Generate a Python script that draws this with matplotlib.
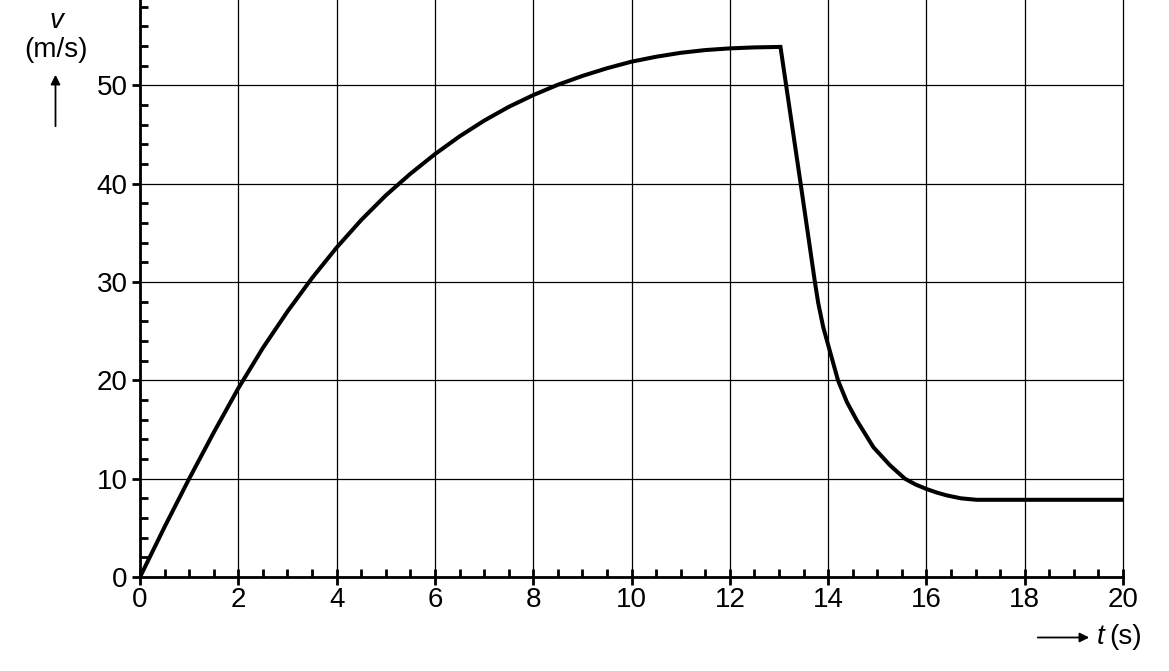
import numpy as np
import matplotlib.pyplot as plt
from matplotlib.ticker import MultipleLocator

plt.rcParams['font.family'] = ['Liberation Sans', 'DejaVu Sans']

# values
t = [0, 0.5, 1, 1.5, 2, 2.5, 3, 3.5, 4, 4.5, 5, 5.5, 6, 6.5, 7, 7.5, 8, 8.5, 9,
     9.5, 10, 10.5, 11, 11.5, 12, 12.5, 13.03,
     13.44, 13.6, 13.73, 13.8, 13.9, 14.0, 14.2, 14.38, 14.58, 14.92, 15.26,
     15.56, 15.78, 16.0, 16.2, 16.41, 16.7, 17.02, 20]
v = [0, 5.1, 10.0, 14.7, 19.2, 23.3, 27.0, 30.4, 33.5, 36.3, 38.8, 41.0, 43.0,
     44.8, 46.4, 47.8, 49.0, 50.05, 50.95, 51.73, 52.4, 52.9, 53.3, 53.58,
     53.75, 53.85, 53.9,
     40.0, 34.5, 30.0, 27.8, 25.4, 23.6, 20.0, 17.8, 15.95, 13.2, 11.35,
     10.0, 9.4, 8.95, 8.6, 8.3, 8.0, 7.85, 7.85]

fig = plt.figure(figsize=(11.69, 6.71), dpi=100)
ax = fig.add_axes([0.1198, 0.1401, 0.8409, 0.8599])

ax.plot(t, v, color='black', lw=2.9, solid_joinstyle='miter', zorder=3)

ax.set_xlim(0, 20)
ax.set_ylim(0, 58.67)
ax.xaxis.set_major_locator(MultipleLocator(2))
ax.xaxis.set_minor_locator(MultipleLocator(0.5))
ax.yaxis.set_major_locator(MultipleLocator(10))
ax.yaxis.set_minor_locator(MultipleLocator(2))
ax.grid(True, which='major', color='black', lw=0.9)
for gl in ax.get_xgridlines():
    gl.set_clip_on(False)

for s in ['top', 'right']:
    ax.spines[s].set_visible(False)
for s in ['left', 'bottom']:
    ax.spines[s].set_linewidth(2.0)

ax.tick_params(axis='x', which='major', direction='inout', length=12, width=2,
               labelsize=20, pad=1)
ax.tick_params(axis='x', which='minor', direction='in', length=6, width=2)
ax.tick_params(axis='y', which='major', direction='out', length=6, width=2,
               labelsize=20, pad=3)
ax.tick_params(axis='y', which='minor', direction='in', length=6, width=2)

# axis labels with arrows
fig.text(56/1169, 1 - 21/671, 'v', fontsize=20, style='italic',
         ha='center', va='center')
fig.text(56/1169, 1 - 50/671, '(m/s)', fontsize=20, ha='center', va='center')
fig.add_artist(plt.Annotation('', xy=(55.5/1169, 1 - 72/671), xytext=(55.5/1169, 1 - 129/671),
                              xycoords='figure fraction',
                              arrowprops=dict(arrowstyle='-|>', color='black', lw=1.3,
                                              mutation_scale=14)))
fig.add_artist(plt.Annotation('', xy=(1092/1169, 1 - 637.5/671), xytext=(1035/1169, 1 - 637.5/671),
                              xycoords='figure fraction',
                              arrowprops=dict(arrowstyle='-|>', color='black', lw=1.3,
                                              mutation_scale=14)))
fig.text(1097/1169, 1 - 637/671, 't', fontsize=20, style='italic',
         ha='left', va='center')
fig.text(1109/1169, 1 - 637/671, '(s)', fontsize=20, ha='left', va='center')

fig.savefig('out.png', dpi=100)
